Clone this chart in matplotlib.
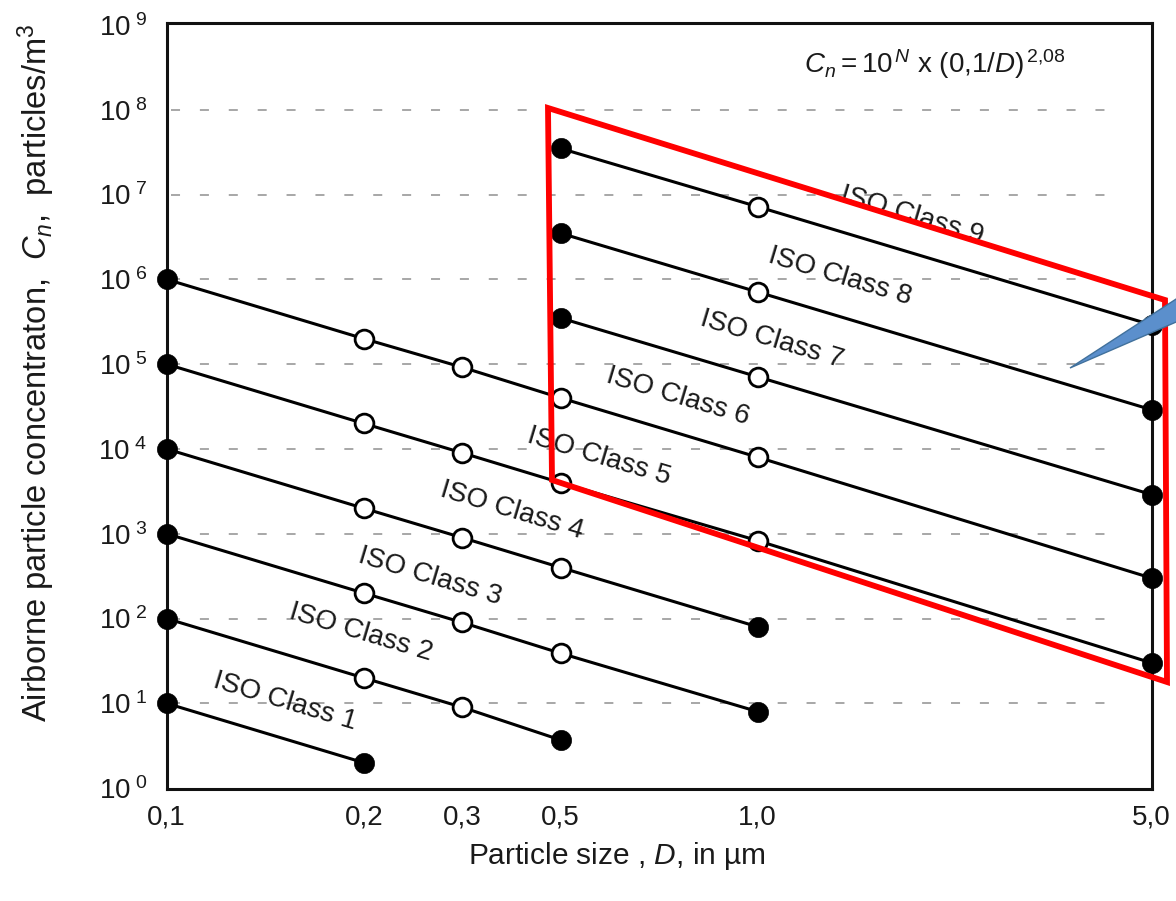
import numpy as np
import matplotlib.pyplot as plt
from matplotlib.patches import Polygon
from matplotlib.ticker import FixedLocator, FixedFormatter, NullLocator

plt.rcParams['font.family'] = ['Liberation Sans', 'DejaVu Sans']
plt.rcParams['mathtext.fontset'] = 'custom'
plt.rcParams['mathtext.rm'] = 'Liberation Sans'
plt.rcParams['mathtext.it'] = 'Liberation Sans:italic'
plt.rcParams['mathtext.bf'] = 'Liberation Sans:bold'

#%% values
sizes = [0.1, 0.2, 0.3, 0.5, 1.0, 5.0]            # particle size D, um
size_labels = ['0,1', '0,2', '0,3', '0,5', '1,0', '5,0']
class_names = ['ISO Class 1', 'ISO Class 2', 'ISO Class 3', 'ISO Class 4', 'ISO Class 5',
               'ISO Class 6', 'ISO Class 7', 'ISO Class 8', 'ISO Class 9']
class_sizes = [
    [0.1, 0.2],
    [0.1, 0.2, 0.3, 0.5],
    [0.1, 0.2, 0.3, 0.5, 1.0],
    [0.1, 0.2, 0.3, 0.5, 1.0],
    [0.1, 0.2, 0.3, 0.5, 1.0, 5.0],
    [0.1, 0.2, 0.3, 0.5, 1.0, 5.0],
    [0.5, 1.0, 5.0],
    [0.5, 1.0, 5.0],
    [0.5, 1.0, 5.0],
]
class_conc = [
    [10, 2],
    [100, 20, 9, 3.7],
    [1000, 200, 90, 39, 8],
    [10000, 2000, 900, 400, 80],
    [100000, 20000, 9000, 4000, 830, 30],
    [1000000, 200000, 92000, 40000, 8000, 300],
    [350000, 71000, 2900],
    [3500000, 710000, 29000],
    [35000000, 7200000, 290000],
]
decades = list(range(0, 10))

#%% the size axis of the original is not a clean log axis, anchor it at the ticks
tick_frac = [0.0, 0.2, 0.3, 0.4, 0.6, 1.0]
log_sizes = np.log10(sizes)

def fwd(x):
    x = np.clip(np.asarray(x, dtype=float), 1e-6, None)
    return np.interp(np.log10(x), log_sizes, tick_frac)

def inv(f):
    return 10 ** np.interp(np.asarray(f, dtype=float), tick_frac, log_sizes)

W, H = 1176, 901
fig = plt.figure(figsize=(W / 100, H / 100), dpi=100)
ax = fig.add_axes([166.7 / W, 1 - 789.3 / H, 985 / W, 766.6 / H])

ax.set_xscale('function', functions=(fwd, inv))
ax.set_yscale('log')
ax.set_xlim(0.1, 5.0)
ax.set_ylim(10 ** -0.013, 10 ** 9.027)

# dashed guide lines
for k in decades[1:-1]:
    ax.axhline(10 ** k, xmin=0.004, xmax=0.972, color='#a0a0a0', lw=1.3,
               ls=(0, (5, 11)), zorder=1)

for d, c in zip(class_sizes, class_conc):
    ax.plot(d, c, color='black', lw=2.2, zorder=3, clip_on=False)
    ax.plot(d[1:-1], c[1:-1], 'o', ms=13.5, mfc='white', mec='black', mew=2.0,
            zorder=4, clip_on=False)
    ax.plot([d[0], d[-1]], [c[0], c[-1]], 'o', ms=14.5, mfc='black', mec='black',
            mew=0.5, zorder=4, clip_on=False)

# class labels (pixel centres in the original)
label_px = [(285, 702), (361, 633), (430, 577), (512, 511), (599, 457),
            (678, 397), (772, 340), (840, 277), (912, 216)]
for name, (px, py) in zip(class_names, label_px):
    ax.text((px - 166.7) / 985, (789.3 - py) / 766.6, name, transform=ax.transAxes,
            rotation=-16.7, rotation_mode='anchor', ha='center', va='center',
            fontsize=20, color='#1a1a1a', zorder=5)

ax.text((935 - 166.7) / 985, (789.3 - 64) / 766.6,
        r'$C_n = 10^{\,N}\ \mathrm{x}\ (0{,}1/D)^{\,2{,}08}$',
        transform=ax.transAxes, ha='center', va='center', fontsize=20, color='#1a1a1a')

ax.xaxis.set_major_locator(FixedLocator(sizes))
ax.xaxis.set_major_formatter(FixedFormatter(size_labels))
ax.xaxis.set_minor_locator(NullLocator())
ax.yaxis.set_major_locator(FixedLocator([10.0 ** k for k in decades]))
ax.yaxis.set_major_formatter(FixedFormatter([r'$10^{\ %d}$' % k for k in decades]))
ax.yaxis.set_minor_locator(NullLocator())
ax.tick_params(axis='both', length=0, labelsize=20, labelcolor='#1a1a1a')
ax.tick_params(axis='x', pad=11)
ax.tick_params(axis='y', pad=14)

for sp in ax.spines.values():
    sp.set_linewidth(2.2)
    sp.set_color('#111111')

fig.text(36 / W, 1 - 373 / H,
         r'Airborne particle concentraton,  $C_n$,  particles/m$^3$',
         rotation=90, ha='center', va='center', fontsize=23.5, color='#1a1a1a')
fig.text(617 / W, 1 - 856 / H, r'Particle size , $D$, in µm',
         ha='center', va='center', fontsize=21.5, color='#1a1a1a')

# red frame drawn over the chart and the blue pointer
frame_px = [(548, 108), (1165, 300), (1167, 682), (552, 480)]
fig.patches.append(Polygon([(x / W, 1 - y / H) for x, y in frame_px], closed=True,
                           fill=False, edgecolor='#ff0000', lw=4.2, joinstyle='miter',
                           transform=fig.transFigure, zorder=10))
pointer_px = [(1070, 368), (1190, 290), (1190, 316)]
fig.patches.append(Polygon([(x / W, 1 - y / H) for x, y in pointer_px], closed=True,
                           facecolor='#5b8fcc', edgecolor='#41719c', lw=1.0,
                           transform=fig.transFigure, zorder=11))

fig.savefig('out.png', dpi=100, facecolor='white')
